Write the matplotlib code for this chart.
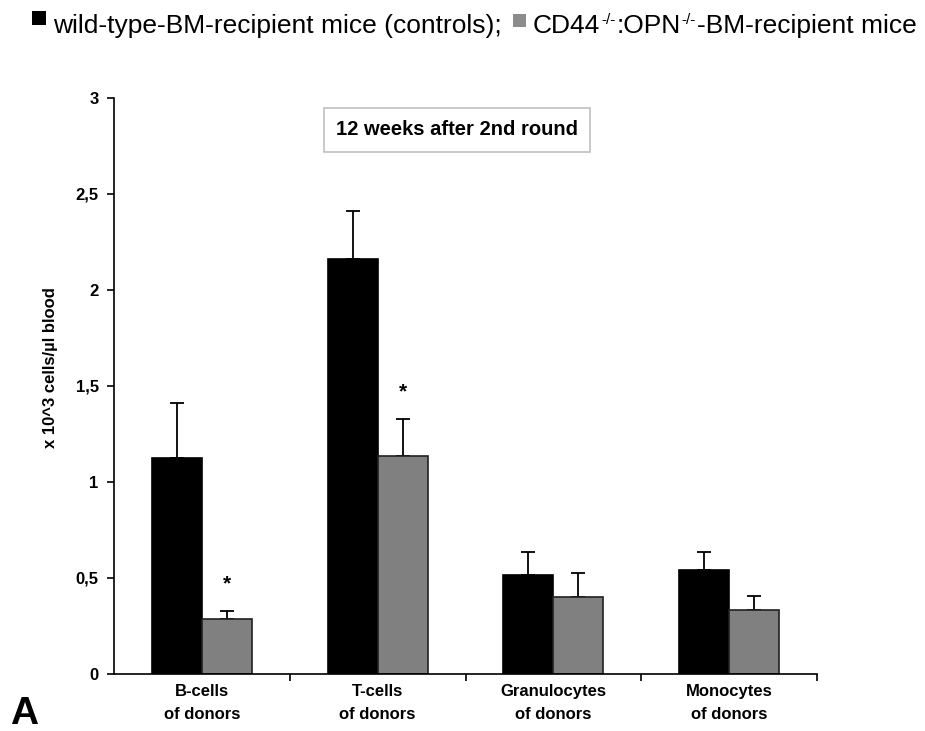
import matplotlib
matplotlib.use("Agg")
import matplotlib.pyplot as plt
from matplotlib.patches import Rectangle
import numpy as np

plt.rcParams['font.family'] = ['Liberation Sans', 'DejaVu Sans']

categories = ["B-cells\nof donors", "T-cells\nof donors", "Granulocytes\nof donors", "Monocytes\nof donors"]
wt_values = [1.125, 2.16, 0.515, 0.542]
wt_err = [0.285, 0.25, 0.12, 0.093]
ko_values = [0.286, 1.135, 0.40, 0.333]
ko_err = [0.042, 0.195, 0.126, 0.073]
significant = [True, True, False, False]
yticks = [0, 0.5, 1, 1.5, 2, 2.5, 3]
yticklabels = ["0", "0,5", "1", "1,5", "2", "2,5", "3"]

W, H = 925, 731
fig = plt.figure(figsize=(9.25, 7.31), dpi=100)
ax = fig.add_axes([114/W, 1 - 674/H, (817 - 114)/W, (674 - 98)/H])

x = np.arange(len(categories))
w = 0.284
ax.bar(x - w/2, wt_values, w, color='black', edgecolor='black', linewidth=1.2, zorder=2)
ax.bar(x + w/2, ko_values, w, color='#808080', edgecolor='#202020', linewidth=1.2, zorder=2)
ax.errorbar(x - w/2, wt_values, yerr=[np.zeros(4), wt_err], fmt='none', ecolor='black',
            elinewidth=1.3, capsize=5, capthick=1.3, zorder=1)
ax.errorbar(x + w/2, ko_values, yerr=[np.zeros(4), ko_err], fmt='none', ecolor='black',
            elinewidth=1.3, capsize=5, capthick=1.3, zorder=1)
for i, s in enumerate(significant):
    if s:
        ax.text(x[i] + w/2, ko_values[i] + ko_err[i] + 0.14, "*", ha='center', va='center',
                fontsize=15, fontweight='bold')

ax.set_xlim(-0.5, 3.5)
ax.set_ylim(0, 3)
ax.spines['top'].set_visible(False)
ax.spines['right'].set_visible(False)
ax.spines['left'].set_linewidth(1.2)
ax.spines['bottom'].set_linewidth(1.2)
ax.set_yticks(yticks)
ax.set_yticklabels(yticklabels, fontsize=12, fontweight='bold')
ax.tick_params(axis='y', direction='out', length=5, width=1.2, pad=6)
ax.set_xticks(x)
ax.set_xticklabels(categories, fontsize=12, fontweight='bold', linespacing=1.7)
ax.tick_params(axis='x', which='major', length=0, pad=7)
ax.set_xticks([0.5, 1.5, 2.5, 3.5], minor=True)
ax.tick_params(axis='x', which='minor', direction='out', length=5, width=1.2)
ax.set_ylabel("x 10^3 cells/\u00b5l blood", fontsize=12, fontweight='bold')
ax.yaxis.set_label_coords(-(114 - 58)/703, (674 - 368)/576)

ax.text((457 - 114)/703, 0.945, "12 weeks after 2nd round", transform=ax.transAxes,
        ha='center', va='center', fontsize=14.5, fontweight='bold',
        bbox=dict(boxstyle='square,pad=0.62', facecolor='white', edgecolor='#c0c0c0', linewidth=1.2))

# legend line built from pieces
renderer = fig.canvas.get_renderer()
base_y = 1 - 33/H
fs = 19

def put(xpx, s, size, dy=0.0):
    t = fig.text(xpx/W, base_y + dy/H, s, fontsize=size, ha='left', va='baseline')
    bb = t.get_window_extent(renderer=renderer)
    return bb.x1

fig.patches.append(Rectangle((32/W, 1 - 25/H), 14/W, 14/H, transform=fig.transFigure,
                             facecolor='black', edgecolor='none'))
put(53, "wild-type-BM-recipient mice (controls);", fs)
fig.patches.append(Rectangle((513/W, 1 - 27/H), 13/W, 13/H, transform=fig.transFigure,
                             facecolor='#8c8c8c', edgecolor='none'))
xp = put(533, "CD44", fs)
xp = put(xp + 1, "-/-", 11, dy=9)
xp = put(xp + 1, ":OPN", fs)
xp = put(xp + 1, "-/-", 11, dy=9)
xp = put(xp + 1, "-BM-recipient mice", fs)

fig.text(10/W, 1 - 714/H, "A", fontsize=28, fontweight='bold', ha='left', va='center')

fig.savefig("out.png", dpi=100)
